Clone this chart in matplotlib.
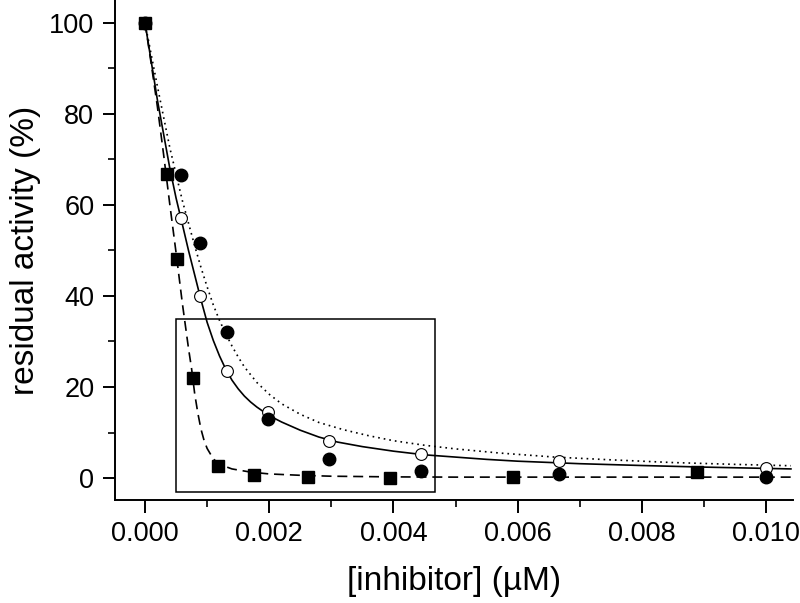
import matplotlib
matplotlib.use("Agg")
import matplotlib.pyplot as plt
from matplotlib.patches import Rectangle
from matplotlib.ticker import MultipleLocator

plt.rcParams['font.family'] = ['Liberation Sans', 'DejaVu Sans']

# measured points (uM, % activity)
sq_x = [0.0, 0.000347, 0.00052, 0.00078, 0.00117, 0.00176, 0.00263, 0.00395, 0.00593, 0.00889]
sq_y = [100, 66.8, 48.2, 22.0, 2.6, 0.6, 0.3, 0.1, 0.2, 1.4]

fc_x = [0.0, 0.000585, 0.00088, 0.00132, 0.00198, 0.00296, 0.00444, 0.00667, 0.01]
fc_y = [100, 66.5, 51.6, 32.0, 13.0, 4.2, 1.5, 0.8, 0.3]

oc_x = [0.0, 0.000585, 0.00088, 0.00132, 0.00198, 0.00296, 0.00444, 0.00667, 0.01]
oc_y = [100, 57.1, 40.0, 23.5, 14.6, 8.1, 5.3, 3.7, 2.1]

# fitted curves
dash_x = [0, 0.0001, 0.0002, 0.0003, 0.0004, 0.0005, 0.0006, 0.0007, 0.00075, 0.0008,
          0.00085, 0.0009, 0.00095, 0.001, 0.0011, 0.0012, 0.0014, 0.0017, 0.002, 0.0025,
          0.003, 0.004, 0.005, 0.0104]
dash_y = [100, 91, 81.5, 71, 60, 49.5, 38.5, 28.5, 24, 18.5,
          14.3, 10.8, 8.3, 6.5, 4.2, 3.0, 2.0, 1.3, 0.9, 0.6,
          0.4, 0.25, 0.2, 0.2]

solid_x = [0, 0.0001, 0.0002, 0.0003, 0.0004, 0.0005, 0.0006, 0.0007, 0.0008, 0.0009,
           0.001, 0.0011, 0.0012, 0.0013, 0.0014, 0.0015, 0.0016, 0.0017, 0.0018, 0.002,
           0.0022, 0.0025, 0.0028, 0.0031, 0.0035, 0.004, 0.0045, 0.005, 0.0055, 0.006,
           0.007, 0.008, 0.009, 0.0104]
solid_y = [100, 91.5, 83, 75.5, 68, 61.5, 55.8, 50, 44.6, 39.2,
           34.2, 30.2, 26.8, 23.9, 21.5, 19.6, 18.0, 16.7, 15.6, 13.7,
           12.3, 10.5, 9.0, 7.9, 6.9, 5.9, 5.1, 4.6, 4.1, 3.7,
           3.15, 2.75, 2.4, 2.0]

dot_x = [0, 0.0002, 0.0004, 0.0006, 0.0008, 0.0009, 0.001, 0.0011, 0.0012, 0.0013,
         0.0014, 0.0015, 0.0016, 0.0018, 0.002, 0.0022, 0.0025, 0.0028, 0.0032, 0.0036,
         0.004, 0.0045, 0.005, 0.0057, 0.0066, 0.0075, 0.0085, 0.0095, 0.0104]
dot_y = [100, 86, 72.5, 61, 51, 46.3, 42, 38, 34.6, 31.7,
         29.0, 26.6, 24.4, 21.0, 18.4, 16.3, 14.0, 12.2, 10.6, 9.3,
         8.2, 7.2, 6.4, 5.5, 4.6, 4.0, 3.4, 3.0, 2.7]

# zoom box drawn on the plot
box_x0, box_x1 = 0.0005, 0.00467
box_y0, box_y1 = -3.1, 34.9

fig = plt.figure(figsize=(8.0, 6.03), dpi=100)
ax = fig.add_axes([0.144, 0.171, 0.847, 0.829])

ax.plot(dot_x, dot_y, color='black', lw=1.2, ls=(0, (1, 2.4)))
ax.plot(solid_x, solid_y, color='black', lw=1.2, ls='-')
ax.plot(dash_x, dash_y, color='black', lw=1.2, ls=(0, (6, 3.5)))

ax.plot(oc_x, oc_y, 'o', ms=8.5, mfc='white', mec='black', mew=0.8, ls='none')
ax.plot(fc_x, fc_y, 'o', ms=9, color='black', ls='none')
ax.plot(sq_x, sq_y, 's', ms=8.3, color='black', ls='none')

ax.add_patch(Rectangle((box_x0, box_y0), box_x1 - box_x0, box_y1 - box_y0,
                       fill=False, ec='black', lw=1.1))

ax.set_xlim(-0.00048, 0.01043)
ax.set_ylim(-4.8, 105)
ax.spines['top'].set_visible(False)
ax.spines['right'].set_visible(False)
for s in ['left', 'bottom']:
    ax.spines[s].set_linewidth(1.4)

ax.xaxis.set_major_locator(MultipleLocator(0.002))
ax.xaxis.set_minor_locator(MultipleLocator(0.001))
ax.yaxis.set_major_locator(MultipleLocator(20))
ax.yaxis.set_minor_locator(MultipleLocator(10))
ax.xaxis.set_major_formatter(plt.FuncFormatter(lambda v, p: f"{v:.3f}"))
ax.tick_params(which='major', direction='out', length=9, width=1.4, labelsize=19.5, pad=6)
ax.tick_params(which='minor', direction='out', length=5, width=1.2)

ax.set_xlabel('[inhibitor] (\u00b5M)', fontsize=24, labelpad=14)
ax.set_ylabel('residual activity (%)', fontsize=24, labelpad=6)

fig.savefig('out.png', dpi=100)
